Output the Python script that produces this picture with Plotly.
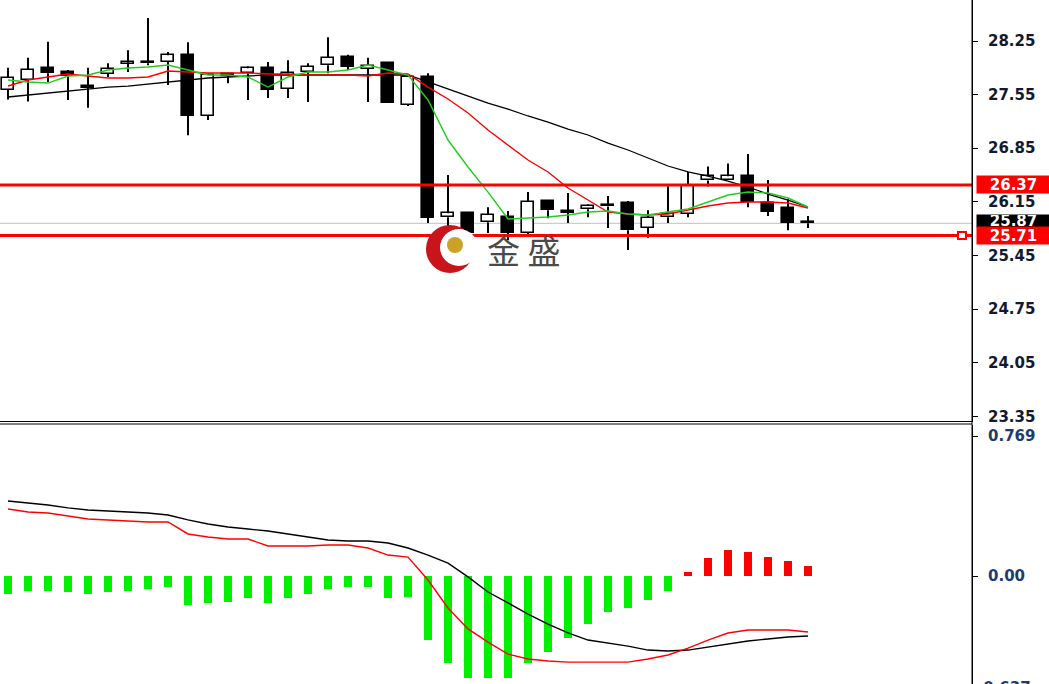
import plotly.graph_objects as go

# ---------------- data ----------------
open_ = [27.615, 27.746, 27.90, 27.845, 27.65, 27.82, 27.955, 27.96, 27.975, 28.065,
         27.27, 27.82, 27.83, 27.895, 27.625, 27.845, 27.935, 28.04, 27.885, 27.96,
         27.415, 27.78, 25.95, 26.00, 25.885, 25.95, 25.745, 26.16, 26.02, 26.055,
         26.09, 26.135, 25.81, 25.95, 25.99, 26.43, 26.43, 26.485, 26.135, 26.07, 25.88]
high = [27.90, 28.03, 28.24, 27.87, 27.90, 27.96, 28.13, 28.55, 28.105, 28.235,
        27.81, 27.83, 27.92, 27.975, 28.00, 27.96, 28.30, 28.07, 28.03, 27.975,
        27.81, 27.83, 26.50, 26.015, 26.08, 26.03, 26.28, 26.175, 26.265, 26.12,
        26.225, 26.16, 26.04, 26.355, 26.54, 26.61, 26.65, 26.775, 26.435, 26.19, 25.965]
low = [27.485, 27.46, 27.715, 27.48, 27.38, 27.78, 27.845, 27.935, 27.675, 27.02,
       27.22, 27.70, 27.48, 27.505, 27.505, 27.455, 27.83, 27.87, 27.455, 27.44,
       27.40, 25.875, 25.78, 25.69, 25.745, 25.65, 25.72, 25.935, 25.875, 25.95,
       25.81, 25.52, 25.68, 25.875, 25.95, 26.35, 26.43, 26.08, 25.965, 25.78, 25.81]
close = [27.77, 27.87, 27.83, 27.79, 27.64, 27.885, 27.965, 27.975, 28.065, 27.27,
         27.805, 27.79, 27.895, 27.61, 27.83, 27.91, 28.03, 27.91, 27.925, 27.44,
         27.78, 25.94, 26.00, 25.745, 25.98, 25.745, 26.15, 26.04, 26.01, 26.095,
         26.10, 25.78, 25.94, 25.99, 26.36, 26.485, 26.485, 26.145, 26.02, 25.875, 25.87]

ma_fast = [27.741, 27.715, 27.701, 27.793, 27.806, 27.871, 27.897, 27.910, 27.936, 27.871,
           27.806, 27.806, 27.780, 27.649, 27.780, 27.845, 27.845, 27.871, 27.936, 27.871,
           27.806, 27.480, 26.957, 26.605, 26.278, 25.926, 25.939, 25.952, 25.978, 26.017,
           26.030, 25.991, 25.978, 26.017, 26.057, 26.148, 26.239, 26.278, 26.265, 26.200, 26.083]
ma_mid = [27.662, 27.741, 27.780, 27.819, 27.793, 27.767, 27.767, 27.780, 27.858, 27.845,
          27.832, 27.832, 27.832, 27.819, 27.819, 27.806, 27.806, 27.806, 27.793, 27.832,
          27.819, 27.649, 27.493, 27.310, 27.088, 26.892, 26.696, 26.540, 26.331, 26.174,
          26.017, 25.991, 25.978, 25.991, 26.043, 26.096, 26.135, 26.148, 26.148, 26.135, 26.070]
ma_slow = [27.519, 27.545, 27.571, 27.597, 27.623, 27.649, 27.662, 27.688, 27.715, 27.741,
           27.767, 27.780, 27.793, 27.806, 27.806, 27.806, 27.806, 27.806, 27.806, 27.806,
           27.806, 27.715, 27.623, 27.532, 27.440, 27.362, 27.271, 27.192, 27.101, 27.023,
           26.918, 26.827, 26.722, 26.618, 26.540, 26.487, 26.422, 26.344, 26.252, 26.174, 26.083]

macd_hist = [-0.099, -0.082, -0.082, -0.088, -0.099, -0.088, -0.082, -0.071, -0.060, -0.159,
             -0.148, -0.143, -0.121, -0.148, -0.121, -0.099, -0.071, -0.060, -0.060, -0.121,
             -0.115, -0.352, -0.478, -0.560, -0.560, -0.560, -0.478, -0.418, -0.341, -0.264,
             -0.198, -0.176, -0.132, -0.082, 0.022, 0.099, 0.143, 0.132, 0.104, 0.082, 0.055]
macd_main = [0.412, 0.401, 0.390, 0.374, 0.363, 0.357, 0.352, 0.346, 0.335, 0.308,
             0.286, 0.269, 0.258, 0.247, 0.231, 0.214, 0.198, 0.192, 0.192, 0.181,
             0.154, 0.115, 0.071, -0.005, -0.088, -0.148, -0.209, -0.264, -0.313, -0.352,
             -0.368, -0.385, -0.407, -0.412, -0.407, -0.390, -0.374, -0.357, -0.346, -0.335, -0.330]
macd_signal = [0.368, 0.352, 0.346, 0.330, 0.313, 0.308, 0.302, 0.297, 0.297, 0.231,
               0.214, 0.203, 0.203, 0.165, 0.165, 0.165, 0.170, 0.170, 0.154, 0.115,
               0.104, -0.022, -0.176, -0.291, -0.363, -0.429, -0.456, -0.467, -0.473, -0.473,
               -0.473, -0.473, -0.456, -0.434, -0.396, -0.352, -0.313, -0.297, -0.297, -0.297, -0.308]

price_ticks = [28.25, 27.55, 26.85, 26.15, 25.45, 24.75, 24.05, 23.35]
macd_ticks = [0.769, 0.0]
macd_tick_text = ["0.769", "0.00"]
macd_min_label = "-0.637"
level_high = 26.37
level_low = 25.71
last_price = 25.87

# ---------------- geometry ----------------
W, H = 1049, 684
PLOT_W = 972          # right edge of plotting area (px)
MAIN_BOTTOM = 421     # px
MACD_TOP = 425        # px


def px_x(x):
    return x / PLOT_W


def px_y(y):
    return 1 - y / H


n = len(close)
idx = list(range(n))

fig = go.Figure()

# wicks (split around the body so hollow bodies stay hollow)
wx, wy = [], []
for i in idx:
    top = max(open_[i], close[i])
    bot = min(open_[i], close[i])
    wx += [i, i, None, i, i, None]
    wy += [high[i], top, None, bot, low[i], None]
fig.add_trace(go.Scatter(x=wx, y=wy, mode="lines", line=dict(color="black", width=2),
                         xaxis="x", yaxis="y", hoverinfo="skip"))

# bodies
bases = [min(o, c) for o, c in zip(open_, close)]
heights = [max(abs(c - o), 0.02) for o, c in zip(open_, close)]
body_colors = ["white" if c >= o else "black" for o, c in zip(open_, close)]
fig.add_trace(go.Bar(x=idx, y=heights, base=bases, width=0.6,
                     marker=dict(color=body_colors, line=dict(color="black", width=1.6)),
                     xaxis="x", yaxis="y", hoverinfo="skip"))

# moving averages
fig.add_trace(go.Scatter(x=idx, y=ma_slow, mode="lines", line=dict(color="#000000", width=1.3),
                         xaxis="x", yaxis="y"))
fig.add_trace(go.Scatter(x=idx, y=ma_mid, mode="lines", line=dict(color="#ff0000", width=1.4),
                         xaxis="x", yaxis="y"))
fig.add_trace(go.Scatter(x=idx, y=ma_fast, mode="lines", line=dict(color="#22cc22", width=1.4),
                         xaxis="x", yaxis="y"))

# MACD
hist_colors = ["#ff0000" if v > 0 else "#00f000" for v in macd_hist]
fig.add_trace(go.Bar(x=idx, y=macd_hist, width=0.38, marker=dict(color=hist_colors, line=dict(width=0)),
                     xaxis="x2", yaxis="y2"))
fig.add_trace(go.Scatter(x=idx, y=macd_main, mode="lines", line=dict(color="#000000", width=1.4),
                         xaxis="x2", yaxis="y2"))
fig.add_trace(go.Scatter(x=idx, y=macd_signal, mode="lines", line=dict(color="#ff0000", width=1.4),
                         xaxis="x2", yaxis="y2"))

# price-axis mapping used for range: 28.25 at 41px, 76.6 px per unit
ppu = 76.6
y_top = 28.25 + 41 / ppu
y_bot = 28.25 - (MAIN_BOTTOM - 41) / ppu
mppu = 182.0
m_top = (576 - MACD_TOP) / mppu
m_bot = (576 - H) / mppu

shapes = [
    dict(type="line", xref="paper", yref="y", x0=0, x1=1, y0=last_price, y1=last_price,
         line=dict(color="#c0c0c0", width=1), layer="below"),
    dict(type="line", xref="paper", yref="y", x0=0, x1=1, y0=level_high, y1=level_high,
         line=dict(color="#ff0000", width=3)),
    dict(type="line", xref="paper", yref="y", x0=0, x1=1, y0=level_low, y1=level_low,
         line=dict(color="#ff0000", width=3)),
    dict(type="rect", xref="paper", yref="paper", x0=px_x(958), x1=px_x(966),
         y0=px_y(239), y1=px_y(232), fillcolor="white", line=dict(color="#ff0000", width=2)),
    # separator of the two windows and continuous price-axis line
    dict(type="line", xref="paper", yref="paper", x0=0, x1=1, y0=px_y(MACD_TOP - 1), y1=px_y(MACD_TOP - 1),
         line=dict(color="#000000", width=1)),
    dict(type="line", xref="paper", yref="paper", x0=1, x1=1, y0=0, y1=1,
         line=dict(color="#000000", width=1)),
    # watermark logo
    dict(type="circle", xref="paper", yref="paper", x0=px_x(426), x1=px_x(474),
         y0=px_y(273), y1=px_y(225), fillcolor="#c8141b", line=dict(width=0)),
    dict(type="circle", xref="paper", yref="paper", x0=px_x(440), x1=px_x(478),
         y0=px_y(266), y1=px_y(229), fillcolor="white", line=dict(width=0)),
    dict(type="circle", xref="paper", yref="paper", x0=px_x(447), x1=px_x(463),
         y0=px_y(253), y1=px_y(237), fillcolor="#c9a227", line=dict(width=0)),
]

annotations = [
    dict(text="金 盛", xref="paper", yref="paper", x=px_x(485), y=px_y(250), xanchor="left",
         yanchor="middle", showarrow=False,
         font=dict(family="Noto Sans CJK SC", size=33, color="#4a4a4a")),
    dict(text="26.37", xref="paper", yref="paper", x=px_x(976), y=px_y(184.5), xanchor="left",
         yanchor="middle", showarrow=False, width=73, height=17, borderpad=0, bgcolor="#ff0000",
         font=dict(family="DejaVu Sans", size=15, color="white", weight="bold")),
    dict(text="25.87", xref="paper", yref="paper", x=px_x(976), y=px_y(221), xanchor="left",
         yanchor="middle", showarrow=False, width=73, height=12, borderpad=0, bgcolor="#000000",
         font=dict(family="DejaVu Sans", size=15, color="white", weight="bold")),
    dict(text="25.71", xref="paper", yref="paper", x=px_x(976), y=px_y(235.5), xanchor="left",
         yanchor="middle", showarrow=False, width=73, height=17, borderpad=0, bgcolor="#ff0000",
         font=dict(family="DejaVu Sans", size=15, color="white", weight="bold")),
    dict(text=macd_min_label, xref="paper", yref="paper", x=px_x(975), y=px_y(688), xanchor="left",
         yanchor="middle", showarrow=False,
         font=dict(family="DejaVu Sans", size=15, color="#1e3a70", weight="bold")),
]

fig.update_layout(
    width=W, height=H,
    margin=dict(l=0, r=W - PLOT_W, t=0, b=0, autoexpand=False),
    paper_bgcolor="white", plot_bgcolor="white",
    showlegend=False, barmode="overlay", bargap=0,
    xaxis=dict(domain=[0, 1], range=[-0.4, 48.2], showticklabels=False, showgrid=False,
               zeroline=False, showline=True, linecolor="black", linewidth=1, ticks="",
               anchor="y", fixedrange=True),
    xaxis2=dict(domain=[0, 1], range=[-0.4, 48.2], showticklabels=False, showgrid=False,
                zeroline=False, showline=False, ticks="", anchor="y2", matches="x"),
    yaxis=dict(domain=[1 - MAIN_BOTTOM / H, 1], range=[y_bot, y_top], side="right",
               tickvals=price_ticks, ticktext=[f"{v:.2f}" for v in price_ticks],
               ticks="outside", ticklen=5, tickcolor="black", showline=True, linecolor="black",
               linewidth=1, showgrid=False, zeroline=False, anchor="x", ticklabelstandoff=7,
               automargin=False,
               tickfont=dict(family="DejaVu Sans", size=15, color="#111a2e", weight="bold")),
    yaxis2=dict(domain=[0, 1 - MACD_TOP / H], range=[m_bot, m_top], side="right",
                tickvals=macd_ticks, ticktext=macd_tick_text,
                ticks="outside", ticklen=5, tickcolor="black", showline=True, linecolor="black",
                linewidth=1, showgrid=False, zeroline=False, anchor="x2", ticklabelstandoff=7,
                automargin=False,
                tickfont=dict(family="DejaVu Sans", size=15, color="#1e3a70", weight="bold")),
    shapes=shapes,
    annotations=annotations,
)

fig.write_html("out.html", config={"displayModeBar": False},
               post_script="document.body.style.margin='0';document.body.style.overflow='hidden';")
